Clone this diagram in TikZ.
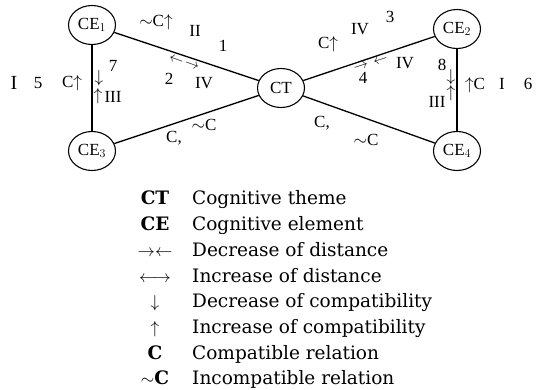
\documentclass[tikz,border=0pt]{standalone}
\usepackage{fontspec}
\setmainfont{Liberation Serif}
\newfontfamily\legendfont{DejaVu Serif}
\usetikzlibrary{shapes.geometric}

\begin{document}
\begin{tikzpicture}[x=1pt,y=-1pt,
  elem/.style={draw,ellipse,line width=1.1pt,minimum width=47pt,minimum height=39pt,inner sep=0pt,font=\fontsize{17}{20}\selectfont},
  lbl/.style={inner sep=0pt,font=\fontsize{17}{20}\selectfont},
  small/.style={inner sep=0pt,font=\fontsize{15}{17}\selectfont},
  legend/.style={inner sep=0pt,font=\legendfont\fontsize{18.5}{22}\selectfont},
  tie/.style={line width=1.3pt}]
  \useasboundingbox (0,0) rectangle (541,390);
  \node[elem] (CE1) at (92,25) {CE$_1$};
  \node[elem] (CE2) at (457,29) {CE$_2$};
  \node[elem] (CE3) at (92,151) {CE$_3$};
  \node[elem] (CE4) at (457,151) {CE$_4$};
  \node[elem] (CT) at (281,88) {CT};
  \draw[tie] (CE1) -- (CT);
  \draw[tie] (CT) -- (CE2);
  \draw[tie] (CE3) -- (CT);
  \draw[tie] (CT) -- (CE4);
  \draw[tie] (CE1) -- (CE3);
  \draw[tie] (CE2) -- (CE4);
  \node[lbl] (incI) at (156,22) {$\sim$C$\uparrow$};
  \node[lbl] (romII) at (195,31) {II};
  \node[lbl] (num1) at (223,46) {1};
  \node[small,rotate=-20] (growI) at (184,63) {$\leftarrow\,\rightarrow$};
  \node[lbl] (num2) at (169,79) {2};
  \node[lbl] (romIVa) at (204,83) {IV};
  \node[lbl,font=\fontsize{20}{22}\selectfont] (romIa) at (14,83) {I};
  \node[lbl] (num5) at (38,83) {5};
  \node[lbl] (incL) at (72,83) {C$\uparrow$};
  \node[lbl] (decL) at (99,78) {$\downarrow$};
  \node[lbl] (num7) at (113,66) {7};
  \node[lbl] (upL) at (98,96) {$\uparrow$};
  \node[lbl] (romIIIa) at (113,97) {III};
  \node[lbl] (relLa) at (174,138) {C,};
  \node[lbl] (relLb) at (204,125) {$\sim$C};
  \node[lbl] (incR) at (328,44) {C$\uparrow$};
  \node[lbl] (romIVb) at (360,29) {IV};
  \node[lbl] (num3) at (390,17) {3};
  \node[small,rotate=17.5] (shrinkR) at (371,64) {$\rightarrow\hspace{6pt}\leftarrow$};
  \node[lbl] (num4) at (363,78) {4};
  \node[lbl] (romIVc) at (405,63) {IV};
  \node[lbl] (num8) at (442,65) {8};
  \node[lbl] (decR) at (451,77) {$\downarrow$};
  \node[lbl] (upR) at (451,93) {$\uparrow$};
  \node[lbl] (romIIIb) at (437,102) {III};
  \node[lbl] (incRv) at (475,85) {$\uparrow$C};
  \node[lbl] (romIb) at (502,84) {I};
  \node[lbl] (num6) at (528,84) {6};
  \node[lbl] (relRa) at (322,123) {C,};
  \node[lbl] (relRb) at (366,140) {$\sim$C};
  \foreach \sym/\txt [count=\i] in {{\bfseries CT}/Cognitive theme,{\bfseries CE}/Cognitive element,$\rightarrow\leftarrow$/Decrease of distance,$\longleftrightarrow$/Increase of distance,$\downarrow$/Decrease of compatibility,$\uparrow$/Increase of compatibility,{\bfseries C}/Compatible relation,$\sim${\bfseries C}/Incompatible relation}{
    \node[legend,anchor=base] (sym\i) at (155,{179.3+25.7*\i}) {\sym};
    \node[legend,anchor=base west] (txt\i) at (192,{179.3+25.7*\i}) {\txt};
  }
\end{tikzpicture}
\end{document}
